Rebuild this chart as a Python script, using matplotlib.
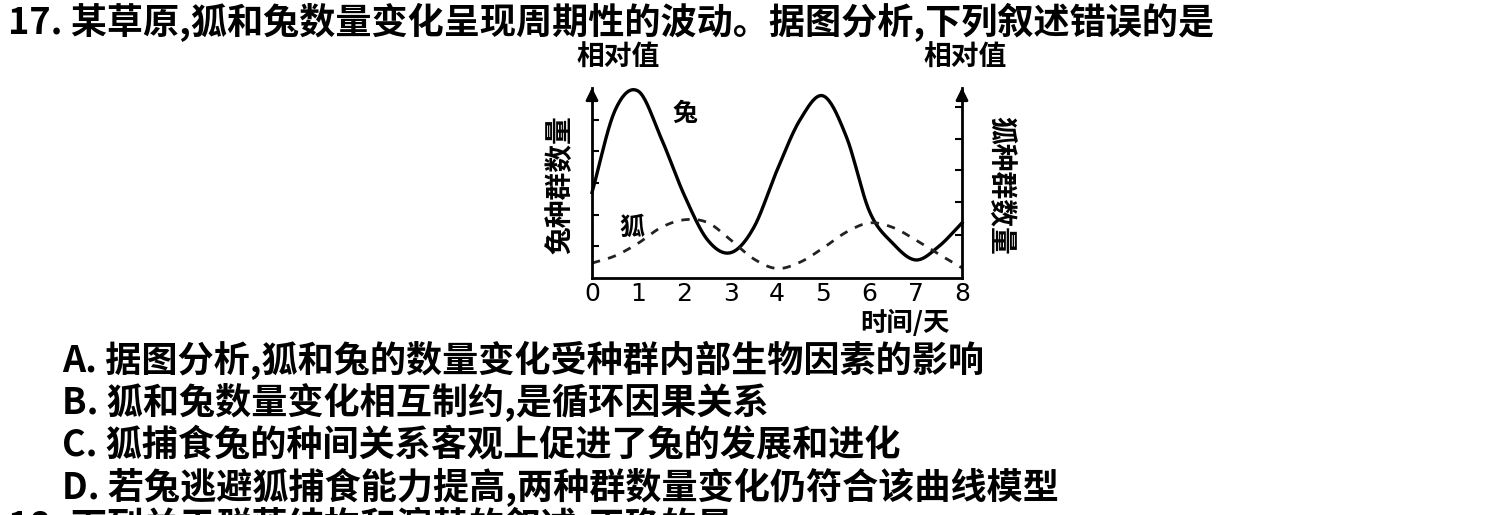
import numpy as np
import matplotlib
matplotlib.use("Agg")
import matplotlib.pyplot as plt

plt.rcParams['font.family'] = ['Noto Sans CJK SC', 'DejaVu Sans']

days = [0, 0.5, 1, 1.5, 2, 2.5, 3, 3.5, 4, 4.5, 5, 5.5, 6, 6.5, 7, 7.5, 8]
rabbit = [2.7, 5.3, 5.9, 4.4, 2.6, 1.2, 0.8, 1.6, 3.4, 5.0, 5.75, 4.46, 2.1, 1.1, 0.57, 1.0, 1.74]
fox = [0.47, 0.7, 1.1, 1.6, 1.84, 1.75, 1.2, 0.6, 0.3, 0.5, 0.95, 1.45, 1.74, 1.6, 1.2, 0.75, 0.32]
xticks = [0, 1, 2, 3, 4, 5, 6, 7, 8]
title = "17. 某草原,狐和兔数量变化呈现周期性的波动。据图分析,下列叙述错误的是"
options = ["A. 据图分析,狐和兔的数量变化受种群内部生物因素的影响",
           "B. 狐和兔数量变化相互制约,是循环因果关系",
           "C. 狐捕食兔的种间关系客观上促进了兔的发展和进化",
           "D. 若兔逃避狐捕食能力提高,两种群数量变化仍符合该曲线模型"]
next_q = "18. 下列关于群落结构和演替的叙述,正确的是"


def smooth(x, y, n=20):
    x = np.asarray(x, float); y = np.asarray(y, float)
    xs, ys = [], []
    m = np.gradient(y, x)
    for i in range(len(x) - 1):
        h = x[i + 1] - x[i]
        t = np.linspace(0, 1, n, endpoint=False)
        h00 = 2*t**3 - 3*t**2 + 1; h10 = t**3 - 2*t**2 + t
        h01 = -2*t**3 + 3*t**2; h11 = t**3 - t**2
        xs.append(x[i] + t*h)
        ys.append(h00*y[i] + h10*h*m[i] + h01*y[i+1] + h11*h*m[i+1])
    xs.append([x[-1]]); ys.append([y[-1]])
    return np.concatenate(xs), np.concatenate(ys)


W, H = 1509, 515
fig = plt.figure(figsize=(W/100, H/100), dpi=100)
fig.patch.set_facecolor('white')

ax = fig.add_axes([592/W, 1-278/H, 370/W, 190/H])
ax.set_xlim(0, 8); ax.set_ylim(0, 6)
xr, yr = smooth(days, rabbit)
xf, yf = smooth(days, fox)
ax.plot(xr, yr, color='black', lw=2.4, clip_on=False)
ax.plot(xf, yf, color='#222222', lw=2.0, ls=(0, (3, 3)), clip_on=False)
ax.set_xticks(xticks)
ax.set_xticklabels([str(v) for v in xticks], fontsize=18, family='DejaVu Sans')
ax.tick_params(axis='x', length=0, pad=3)
ax.set_yticks([1, 2, 3, 4, 5])
ax.set_yticklabels([])
ax.tick_params(axis='y', direction='in', length=5, width=1.5, left=True, right=False)
ax2 = ax.twinx()
ax2.set_ylim(0, 6)
ax2.set_yticks([1.36, 2.4, 3.4, 4.4, 5.4])
ax2.set_yticklabels([])
ax2.tick_params(axis='y', direction='in', length=5, width=1.5)
for a in (ax, ax2):
    for s in a.spines.values():
        s.set_visible(False)
ax.spines['left'].set_visible(True); ax.spines['bottom'].set_visible(True)
ax.spines['left'].set_linewidth(2); ax.spines['bottom'].set_linewidth(2)
ax2.spines['right'].set_visible(True); ax2.spines['right'].set_linewidth(2)
for xa in (0, 8):
    ax2.annotate('', xy=(xa, 6.1), xytext=(xa, 5.5), xycoords='data',
                 arrowprops=dict(arrowstyle='-|>', color='black', lw=2, mutation_scale=18),
                 annotation_clip=False)
ax.text(1.75, 4.95, '兔', fontsize=18, fontweight='bold')
ax.text(0.6, 1.35, '狐', fontsize=18, fontweight='bold')

def ft(x, y, s, **kw):
    fig.text(x/W, 1-y/H, s, **kw)

ft(618, 58, '相对值', fontsize=20, fontweight='bold', ha='center', va='center')
ft(965, 58, '相对值', fontsize=20, fontweight='bold', ha='center', va='center')
ft(560, 185, '兔种群数量', fontsize=20, fontweight='bold', ha='center', va='center', rotation=90)
ft(1000, 185, '狐种群数量', fontsize=20, fontweight='bold', ha='center', va='center', rotation=270)
ft(905, 323, '时间/天', fontsize=19, fontweight='bold', ha='center', va='center')

ft(8, 22, title, fontsize=26, fontweight='bold', ha='left', va='center')
for i, o in enumerate(options):
    ft(62, 360 + i*42.5, o, fontsize=26, fontweight='bold', ha='left', va='center')
ft(8, 526, next_q, fontsize=26, fontweight='bold', ha='left', va='center')

fig.savefig('out.png', dpi=100, facecolor='white')
